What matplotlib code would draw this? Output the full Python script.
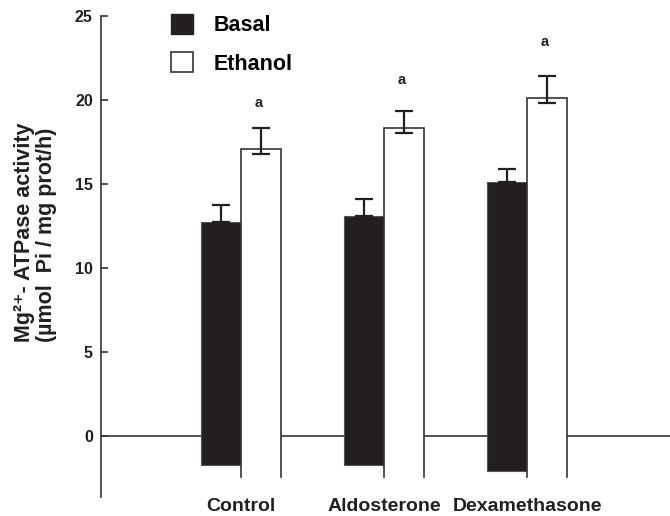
import numpy as np
import matplotlib
matplotlib.use('Agg')
import matplotlib.pyplot as plt
from matplotlib.patches import Patch

plt.rcParams['font.family'] = ['Liberation Sans', 'DejaVu Sans']
plt.rcParams['font.weight'] = 'bold'

# данные
groups = ['Control', 'Aldosterone', 'Dexamethasone']
basal = [12.7, 13.05, 15.1]
basal_err = [1.05, 1.05, 0.8]
basal_bottom = [-1.75, -1.75, -2.1]
ethanol = [17.05, 18.3, 20.1]
ethanol_err = [1.25, 1.0, 1.3]
ethanol_bottom = -2.45
sig_y = [19.8, 21.2, 23.45]

dark = '#231f20'
x = np.arange(1, len(groups) + 1)
w = 0.28

fig = plt.figure(figsize=(6.7, 5.16), dpi=100)
ax = fig.add_axes([0.151, 0.037, 0.849, 0.9326])

ax.axhline(0, color='#333333', lw=1.2, zorder=1)

# черные столбики (Basal)
b = np.array(basal)
bb = np.array(basal_bottom)
ax.bar(x - w / 2, b - bb, bottom=bb, width=w, color=dark,
       edgecolor='#555555', linewidth=0.8, zorder=2)
ax.errorbar(x - w / 2, b, yerr=[np.zeros(3), basal_err], fmt='none',
            ecolor=dark, elinewidth=1.6, capsize=6.5, capthick=1.6, zorder=3)

# белые столбики (Ethanol) - без нижней границы
e = np.array(ethanol)
ax.bar(x + w / 2, e - ethanol_bottom, bottom=ethanol_bottom, width=w,
       color='white', edgecolor='none', zorder=2)
for xi, ei in zip(x + w / 2, e):
    ax.plot([xi - w / 2, xi - w / 2, xi + w / 2, xi + w / 2],
            [ethanol_bottom, ei, ei, ethanol_bottom],
            color='#333333', lw=1.2, zorder=3, solid_joinstyle='miter')
ax.errorbar(x + w / 2, e, yerr=[np.full(3, 0.3), ethanol_err], fmt='none',
            ecolor=dark, elinewidth=1.6, capsize=6.5, capthick=1.6, zorder=4)

for xi, yi in zip(x + w / 2, sig_y):
    ax.text(xi - 0.02, yi, 'a', ha='center', va='center', fontsize=10.5,
            fontweight='bold', color=dark)

ax.set_xlim(0.02, 4.0)
ax.set_ylim(-3.65, 25)
ax.set_yticks([0, 5, 10, 15, 20, 25])
ax.set_xticks(x)
ax.set_xticklabels(groups, fontsize=14, fontweight='bold', color=dark)
ax.tick_params(axis='x', length=0, pad=1)
ax.tick_params(axis='y', direction='in', length=5, width=1.2, pad=6,
               labelsize=11.5, colors='#333333', labelcolor=dark)
for s in ['top', 'right', 'bottom']:
    ax.spines[s].set_visible(False)
ax.spines['left'].set_color('#333333')
ax.spines['left'].set_linewidth(1.2)

fig.text(0.053, 0.55, 'Mg\u00b2\u207a- ATPase activity\n(\u00b5mol  Pi / mg prot/h)',
         rotation=90, ha='center', va='center', multialignment='left',
         fontsize=15.5, fontweight='bold', color=dark, linespacing=1.12)

handles = [Patch(facecolor=dark, edgecolor=dark), Patch(facecolor='white', edgecolor='#333333', linewidth=1.2)]
fig.legend(handles, ['Basal', 'Ethanol'], loc='upper left',
           bbox_to_anchor=(171 / 670, 1 - 14 / 516), frameon=False,
           prop={'size': 15.5, 'weight': 'bold'}, handlelength=1.0,
           handleheight=1.05, handletextpad=1.0, labelspacing=0.75,
           borderpad=0, borderaxespad=0)

fig.savefig('out.png', dpi=100)
